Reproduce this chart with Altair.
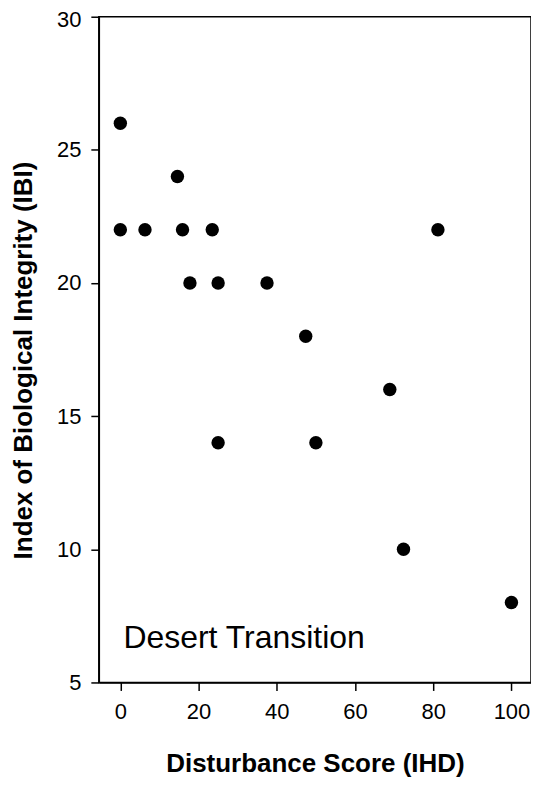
import altair as alt
import pandas as pd

ihd = [0, 0, 6.3, 14.6, 15.9, 17.8, 23.5, 25, 25, 37.5, 47.4, 50, 68.9, 72.4, 81.2, 100]
ibi = [26, 22, 22, 24, 22, 20, 22, 20, 14, 20, 18, 14, 16, 10, 22, 8]

label_text = ["Desert Transition"]
label_x = [0.8]
label_y = [6.3]

df = pd.DataFrame({"ihd": ihd, "ibi": ibi})
lab = pd.DataFrame({"t": label_text, "x": label_x, "y": label_y})

FONT = "Liberation Sans"

xs = alt.Scale(domain=[-5.5, 105], nice=False, zero=False)
ys = alt.Scale(domain=[5, 30], nice=False, zero=False)

pts = alt.Chart(df).mark_circle(size=180, color="black", opacity=1).encode(
    x=alt.X("ihd:Q", scale=xs,
            axis=alt.Axis(title="Disturbance Score (IHD)", values=[0, 20, 40, 60, 80, 100],
                          grid=False, tickSize=8, labelPadding=11, labelFontSize=22,
                          titleFontSize=26, titleFontWeight="bold", titlePadding=28,
                          labelFont=FONT, titleFont=FONT, domainColor="black",
                          tickColor="black", labelColor="black", titleColor="black",
                          domainWidth=1.5, tickWidth=1.5)),
    y=alt.Y("ibi:Q", scale=ys,
            axis=alt.Axis(title="Index of Biological Integrity (IBI)", values=[5, 10, 15, 20, 25, 30],
                          grid=False, tickSize=8, labelPadding=10, labelFontSize=22,
                          labelOffset=alt.condition("datum.value == 30", alt.value(3), alt.value(0)),
                          titleFontSize=26, titleFontWeight="bold", titlePadding=20,
                          titleY=344,
                          labelFont=FONT, titleFont=FONT, domainColor="black",
                          tickColor="black", labelColor="black", titleColor="black",
                          domainWidth=1.5, tickWidth=1.5)),
)

txt = alt.Chart(lab).mark_text(align="left", baseline="alphabetic", fontSize=32,
                               font=FONT, color="black").encode(
    x=alt.X("x:Q", scale=xs), y=alt.Y("y:Q", scale=ys), text="t:N"
)

chart = (pts + txt).properties(
    width=433, height=667,
    autosize=alt.AutoSizeParams(type="none"),
    padding={"left": 91, "top": 8, "right": 0, "bottom": 96},
).configure_view(stroke="black", strokeWidth=1.5)

chart.save("out.html", embed_options={"renderer": "svg", "actions": False})
